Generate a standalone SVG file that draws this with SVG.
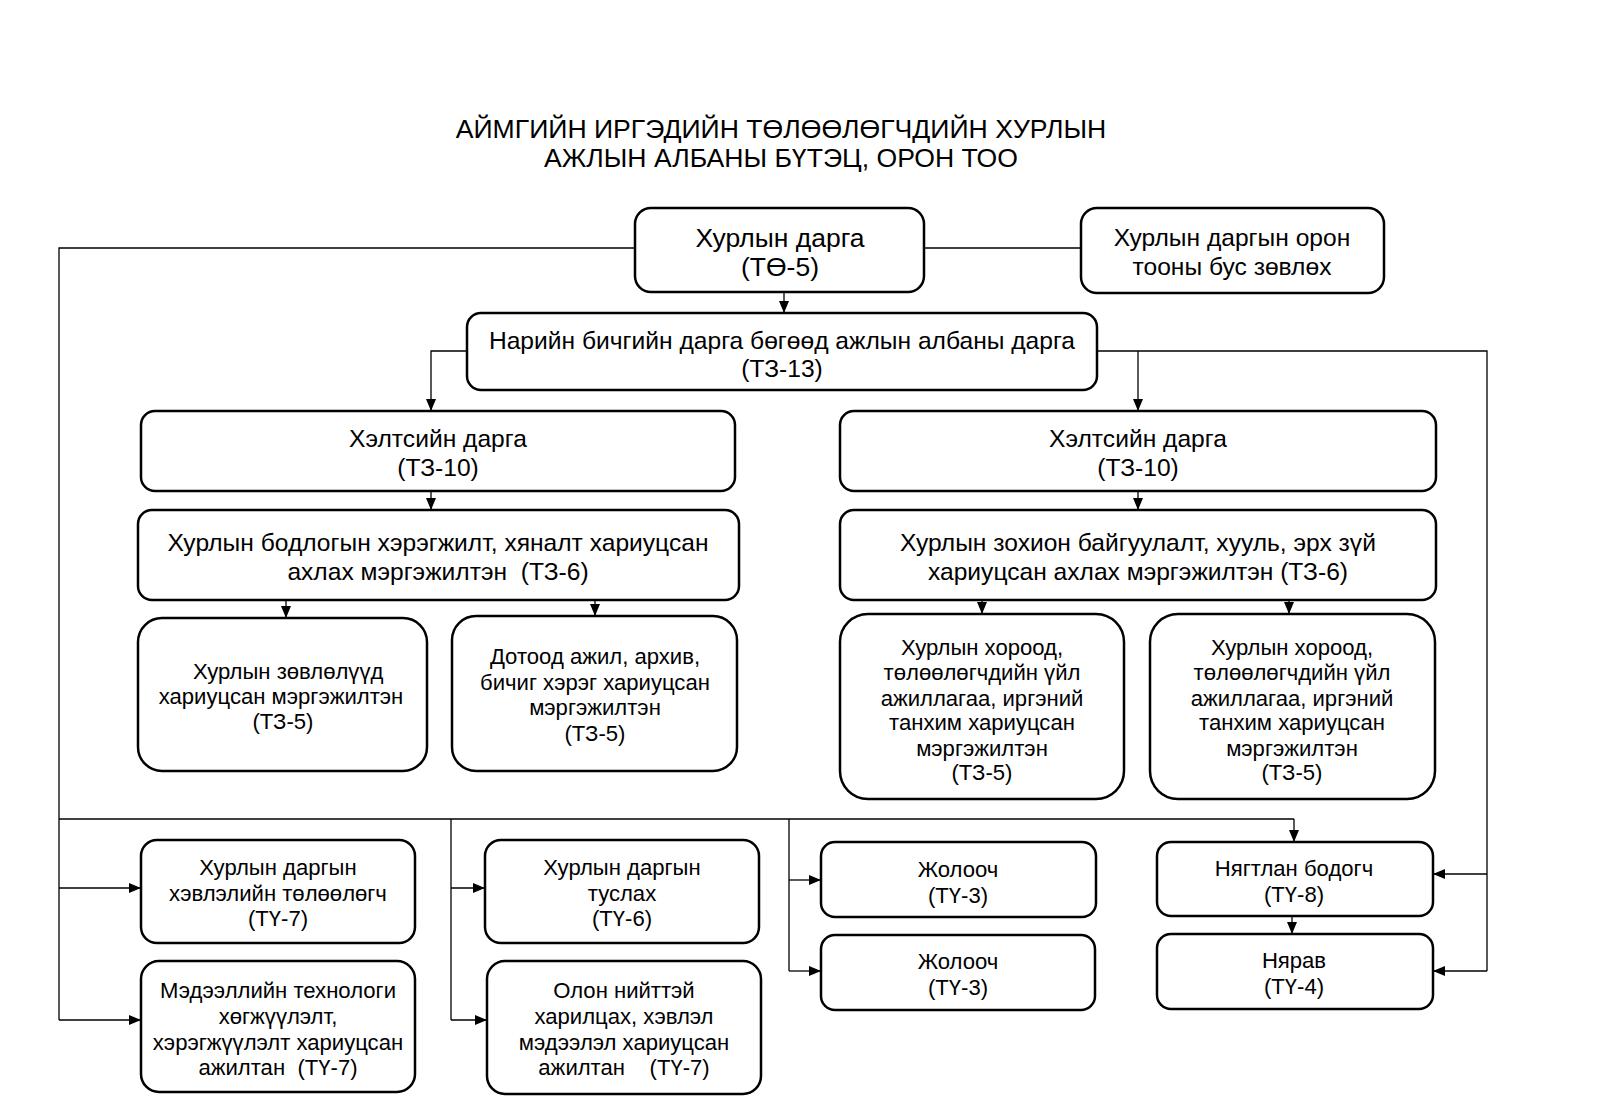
<svg xmlns="http://www.w3.org/2000/svg" width="1600" height="1107" viewBox="0 0 1600 1107">
<defs>
<marker id="ah" markerUnits="userSpaceOnUse" markerWidth="12" markerHeight="12" viewBox="0 0 12 12" refX="12" refY="6" orient="auto">
<path d="M0,1 L12,6 L0,11 Z" fill="#000"/>
</marker>
</defs>
<style>
.b{fill:#fff;stroke:#000;stroke-width:2.5}
.t{font-family:"Liberation Sans",Arial,sans-serif;fill:#000;text-anchor:middle;white-space:pre}
.l{font-size:26.5px}
.m{font-size:24.6px}
.s{font-size:22.1px}
.c{fill:none;stroke:#000;stroke-width:1.3}
.a{marker-end:url(#ah)}
</style>
<rect width="1600" height="1107" fill="#fff"/>
<g id="title" class="t" font-size="26.6">
<text x="781" y="138">АЙМГИЙН ИРГЭДИЙН ТӨЛӨӨЛӨГЧДИЙН ХУРЛЫН</text>
<text x="781" y="167">АЖЛЫН АЛБАНЫ БҮТЭЦ, ОРОН ТОО</text>
</g>
<g id="connectors">
<path class="c" d="M635,248 H59 V1020"/>
<path class="c a" d="M59,888 H141"/>
<path class="c a" d="M59,1020 H141"/>
<path class="c" d="M59,819 H1294"/>
<path class="c a" d="M1294,819 V842"/>
<path class="c" d="M451,819 V1020"/>
<path class="c a" d="M451,888 H485"/>
<path class="c a" d="M451,1020 H487"/>
<path class="c" d="M789,819 V971"/>
<path class="c a" d="M789,880 H821"/>
<path class="c a" d="M789,971 H821"/>
<path class="c" d="M924,248 H1081"/>
<path class="c a" d="M784,292 V313"/>
<path class="c a" d="M467,351 H431 V411"/>
<path class="c" d="M1097,351 H1487 V971"/>
<path class="c a" d="M1138,351 V411"/>
<path class="c a" d="M1487,874 H1433"/>
<path class="c a" d="M1487,971 H1433"/>
<path class="c a" d="M431,491 V510"/>
<path class="c a" d="M1138,491 V510"/>
<path class="c a" d="M286,600 V618"/>
<path class="c a" d="M595,600 V616"/>
<path class="c a" d="M982,600 V614"/>
<path class="c a" d="M1289,600 V614"/>
<path class="c a" d="M1292,916 V934"/>
</g>
<g id="n1"><rect class="b" x="635" y="208" width="289" height="84" rx="16"/>
<text class="t l" x="780" y="247">Хурлын дарга</text><text class="t l" x="780" y="276">(ТӨ-5)</text></g>
<g id="n2"><rect class="b" x="1081" y="208" width="303" height="85" rx="16"/>
<text class="t m" x="1232" y="246">Хурлын даргын орон</text><text class="t m" x="1232" y="275">тооны бус зөвлөх</text></g>
<g id="n3"><rect class="b" x="467" y="313" width="630" height="77" rx="14"/>
<text class="t m" x="782" y="349">Нарийн бичгийн дарга бөгөөд ажлын албаны дарга</text><text class="t m" x="782" y="377">(ТЗ-13)</text></g>
<g id="n4"><rect class="b" x="141" y="411" width="594" height="80" rx="14"/>
<text class="t m" x="438" y="447">Хэлтсийн дарга</text><text class="t m" x="438" y="476">(ТЗ-10)</text></g>
<g id="n5"><rect class="b" x="840" y="411" width="596" height="80" rx="14"/>
<text class="t m" x="1138" y="447">Хэлтсийн дарга</text><text class="t m" x="1138" y="476">(ТЗ-10)</text></g>
<g id="n6"><rect class="b" x="138" y="510" width="601" height="90" rx="14"/>
<text class="t m" x="438" y="551">Хурлын бодлогын хэрэгжилт, хяналт хариуцсан</text><text class="t m" x="438" y="580">ахлах мэргэжилтэн  (ТЗ-6)</text></g>
<g id="n7"><rect class="b" x="840" y="510" width="596" height="90" rx="14"/>
<text class="t m" x="1138" y="551">Хурлын зохион байгуулалт, хууль, эрх зүй</text><text class="t m" x="1138" y="580">хариуцсан ахлах мэргэжилтэн (ТЗ-6)</text></g>
<g id="n8"><rect class="b" x="138" y="618" width="289" height="153" rx="24"/>
<text class="t s" x="282" y="679">  Хурлын зөвлөлүүд</text><text class="t s" x="281" y="704">хариуцсан мэргэжилтэн</text><text class="t s" x="283" y="729">(ТЗ-5)</text></g>
<g id="n9"><rect class="b" x="452" y="616" width="285" height="155" rx="24"/>
<text class="t s" x="595" y="664">Дотоод ажил, архив,</text><text class="t s" x="595" y="690">бичиг хэрэг хариуцсан</text><text class="t s" x="595" y="715">мэргэжилтэн</text><text class="t s" x="595" y="741">(ТЗ-5)</text></g>
<g id="n10"><rect class="b" x="840" y="614" width="284" height="185" rx="28"/>
<text class="t s" x="982" y="655">Хурлын хороод,</text><text class="t s" x="982" y="680">төлөөлөгчдийн үйл</text><text class="t s" x="982" y="706">ажиллагаа, иргэний</text><text class="t s" x="982" y="730">танхим хариуцсан</text><text class="t s" x="982" y="756">мэргэжилтэн</text><text class="t s" x="982" y="780">(ТЗ-5)</text></g>
<g id="n11"><rect class="b" x="1150" y="614" width="285" height="185" rx="28"/>
<text class="t s" x="1292" y="655">Хурлын хороод,</text><text class="t s" x="1292" y="680">төлөөлөгчдийн үйл</text><text class="t s" x="1292" y="706">ажиллагаа, иргэний</text><text class="t s" x="1292" y="730">танхим хариуцсан</text><text class="t s" x="1292" y="756">мэргэжилтэн</text><text class="t s" x="1292" y="780">(ТЗ-5)</text></g>
<g id="n12"><rect class="b" x="141" y="840" width="274" height="103" rx="16"/>
<text class="t s" x="278" y="875">Хурлын даргын</text><text class="t s" x="278" y="901">хэвлэлийн төлөөлөгч</text><text class="t s" x="278" y="926">(ТҮ-7)</text></g>
<g id="n13"><rect class="b" x="141" y="961" width="274" height="131" rx="18"/>
<text class="t s" x="278" y="998">Мэдээллийн технологи</text><text class="t s" x="278" y="1024">хөгжүүлэлт,</text><text class="t s" x="278" y="1050">хэрэгжүүлэлт хариуцсан</text><text class="t s" x="278" y="1075">ажилтан  (ТҮ-7)</text></g>
<g id="n14"><rect class="b" x="485" y="840" width="274" height="103" rx="16"/>
<text class="t s" x="622" y="875">Хурлын даргын</text><text class="t s" x="622" y="901">туслах</text><text class="t s" x="622" y="926">(ТҮ-6)</text></g>
<g id="n15"><rect class="b" x="487" y="961" width="274" height="133" rx="18"/>
<text class="t s" x="624" y="998">Олон нийттэй</text><text class="t s" x="624" y="1024">харилцах, хэвлэл</text><text class="t s" x="624" y="1050">мэдээлэл хариуцсан</text><text class="t s" x="624" y="1075">ажилтан    (ТҮ-7)</text></g>
<g id="n16"><rect class="b" x="821" y="842" width="275" height="75" rx="14"/>
<text class="t s" x="958" y="877">Жолооч</text><text class="t s" x="958" y="903">(ТҮ-3)</text></g>
<g id="n17"><rect class="b" x="821" y="935" width="274" height="75" rx="14"/>
<text class="t s" x="958" y="969">Жолооч</text><text class="t s" x="958" y="995">(ТҮ-3)</text></g>
<g id="n18"><rect class="b" x="1157" y="842" width="276" height="74" rx="14"/>
<text class="t s" x="1294" y="876">Нягтлан бодогч</text><text class="t s" x="1294" y="902">(ТҮ-8)</text></g>
<g id="n19"><rect class="b" x="1157" y="934" width="276" height="75" rx="14"/>
<text class="t s" x="1294" y="968">Нярав</text><text class="t s" x="1294" y="994">(ТҮ-4)</text></g>
</svg>
